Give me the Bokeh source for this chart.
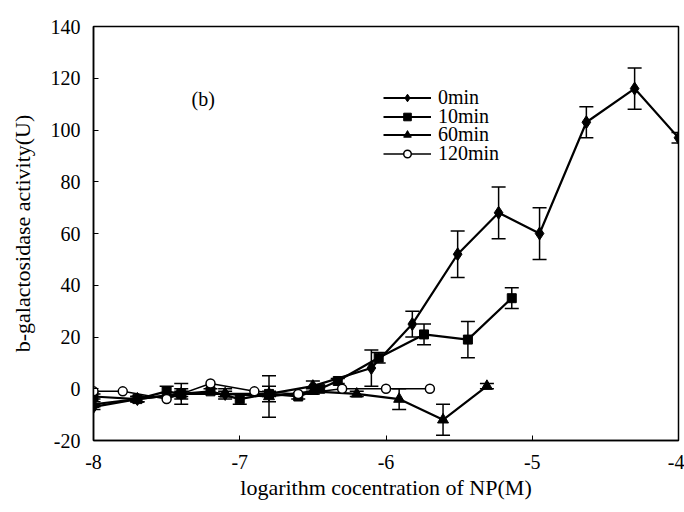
from bokeh.plotting import figure
from bokeh.models import (Range1d, FixedTicker, ColumnDataSource, Whisker, TeeHead,
                          Legend, LegendItem, Label)
from bokeh.embed import file_html
from bokeh.resources import INLINE

# ---- data ----
x_0 = [-8.0, -7.7, -7.4, -7.1, -6.8, -6.5, -6.1, -5.82, -5.51, -5.23, -4.95, -4.63, -4.3, -4.0]
y_0 = [-7, -4, -2, -2, -2, 1, 8, 25, 52, 68, 60, 103, 116, 97]
e_0 = [1, 1, 2, 2, 3, 2, 7, 5, 9, 10, 10, 6, 8, 2]

x_10 = [-8.0, -7.7, -7.5, -7.4, -7.2, -7.0, -6.8, -6.6, -6.45, -6.33, -6.05, -5.74, -5.44, -5.14]
y_10 = [-3, -4, -1, -2, -1, -4, -2, -3, 0, 3, 12, 21, 19, 35]
e_10 = [1, 1, 2, 4, 1, 2, 1, 1, 1, 1, 2, 4, 7, 4]

x_60 = [-8.0, -7.7, -7.4, -7.1, -6.8, -6.5, -6.2, -5.91, -5.61, -5.31]
y_60 = [-6, -4, -2, -2, -3, -1, -2, -4, -12, 1]
e_60 = [1, 1, 1, 1, 8, 1, 1, 4, 6, 1]

x_120 = [-8.0, -7.8, -7.5, -7.2, -6.9, -6.6, -6.3, -6.0, -5.7]
y_120 = [-1, -1, -4, 2, -1, -2, 0, 0, 0]

x_ticks = [-8, -7, -6, -5, -4]
y_ticks = [-20, 0, 20, 40, 60, 80, 100, 120, 140]
series_names = ["0min", "10min", "60min", "120min"]

FONT = "Liberation Serif"

p = figure(width=684, height=512, output_backend="svg", toolbar_location=None,
           x_range=Range1d(-8, -4), y_range=Range1d(-20, 140),
           min_border_left=93, min_border_right=6, min_border_top=26, min_border_bottom=72)
p.background_fill_color = "white"
p.border_fill_color = "white"
p.grid.visible = False
p.outline_line_color = "black"
p.outline_line_width = 1.5

for ax in (p.xaxis, p.yaxis):
    ax.axis_line_color = "black"
    ax.axis_line_width = 1.5
    ax.major_tick_in = 5
    ax.major_tick_out = 0
    ax.minor_tick_line_color = None
    ax.major_label_text_font = FONT
    ax.major_label_text_font_size = "20px"
    ax.major_label_text_color = "black"
    ax.axis_label_text_font = FONT
    ax.axis_label_text_font_size = "22px"
    ax.axis_label_text_font_style = "normal"
    ax.axis_label_text_color = "black"

p.xaxis.ticker = FixedTicker(ticks=x_ticks)
p.yaxis.ticker = FixedTicker(ticks=y_ticks)
p.xaxis.major_label_overrides = {t: str(t) for t in x_ticks}
p.yaxis.major_label_overrides = {t: str(t) for t in y_ticks}
p.xaxis.major_label_standoff = 14
p.yaxis.major_label_standoff = 13
p.xaxis.axis_label = "logarithm cocentration of NP(M)"
p.yaxis.axis_label = "b-galactosidase activity(U)"
p.xaxis.axis_label_standoff = 3
p.yaxis.axis_label_standoff = 13


def add_err(xs, ys, es):
    src = ColumnDataSource(dict(x=xs, upper=[a + b for a, b in zip(ys, es)],
                                lower=[a - b for a, b in zip(ys, es)]))
    w = Whisker(source=src, base="x", upper="upper", lower="lower",
                line_color="black", line_width=1.5,
                upper_head=TeeHead(size=14, line_color="black", line_width=1.5),
                lower_head=TeeHead(size=14, line_color="black", line_width=1.5))
    p.add_layout(w)


add_err(x_0, y_0, e_0)
add_err(x_10, y_10, e_10)
add_err(x_60, y_60, e_60)

lw = 2.2
l0 = p.line(x_0, y_0, line_color="black", line_width=lw)
m0 = p.scatter(x_0, y_0, marker="diamond", size=13, fill_color="black", line_color="black")
l10 = p.line(x_10, y_10, line_color="black", line_width=lw)
m10 = p.scatter(x_10, y_10, marker="square", size=9, fill_color="black", line_color="black")
l60 = p.line(x_60, y_60, line_color="black", line_width=lw)
m60 = p.scatter(x_60, y_60, marker="triangle", size=11, fill_color="black", line_color="black")
l120 = p.line(x_120, y_120, line_color="black", line_width=1.5)
m120 = p.scatter(x_120, y_120, marker="circle", size=9, fill_color="white",
                 line_color="black", line_width=1.5)

# one single-item legend per row so that rows sit closer than the font's line box
renderer_sets = [[l0, m0], [l10, m10], [l60, m60], [l120, m120]]
row_bottoms = [331, 312, 294, 275]  # screen offset of each row from frame bottom
for name, rs, yb in zip(series_names, renderer_sets, row_bottoms):
    lg = Legend(items=[LegendItem(label=name, renderers=rs)], location=(290, yb))
    lg.label_text_font = FONT
    lg.label_text_font_size = "20px"
    lg.label_text_color = "black"
    lg.glyph_width = 48
    lg.glyph_height = 19
    lg.label_height = 19
    lg.label_standoff = 7
    lg.spacing = 0
    lg.padding = 0
    lg.margin = 0
    lg.border_line_alpha = 0
    lg.background_fill_alpha = 0
    p.add_layout(lg, "center")

p.add_layout(Label(x=-7.33, y=112, text="(b)", text_font=FONT, text_font_size="20px",
                   text_color="black", text_baseline="middle"))

open("out.html", "w").write(file_html(p, INLINE))
